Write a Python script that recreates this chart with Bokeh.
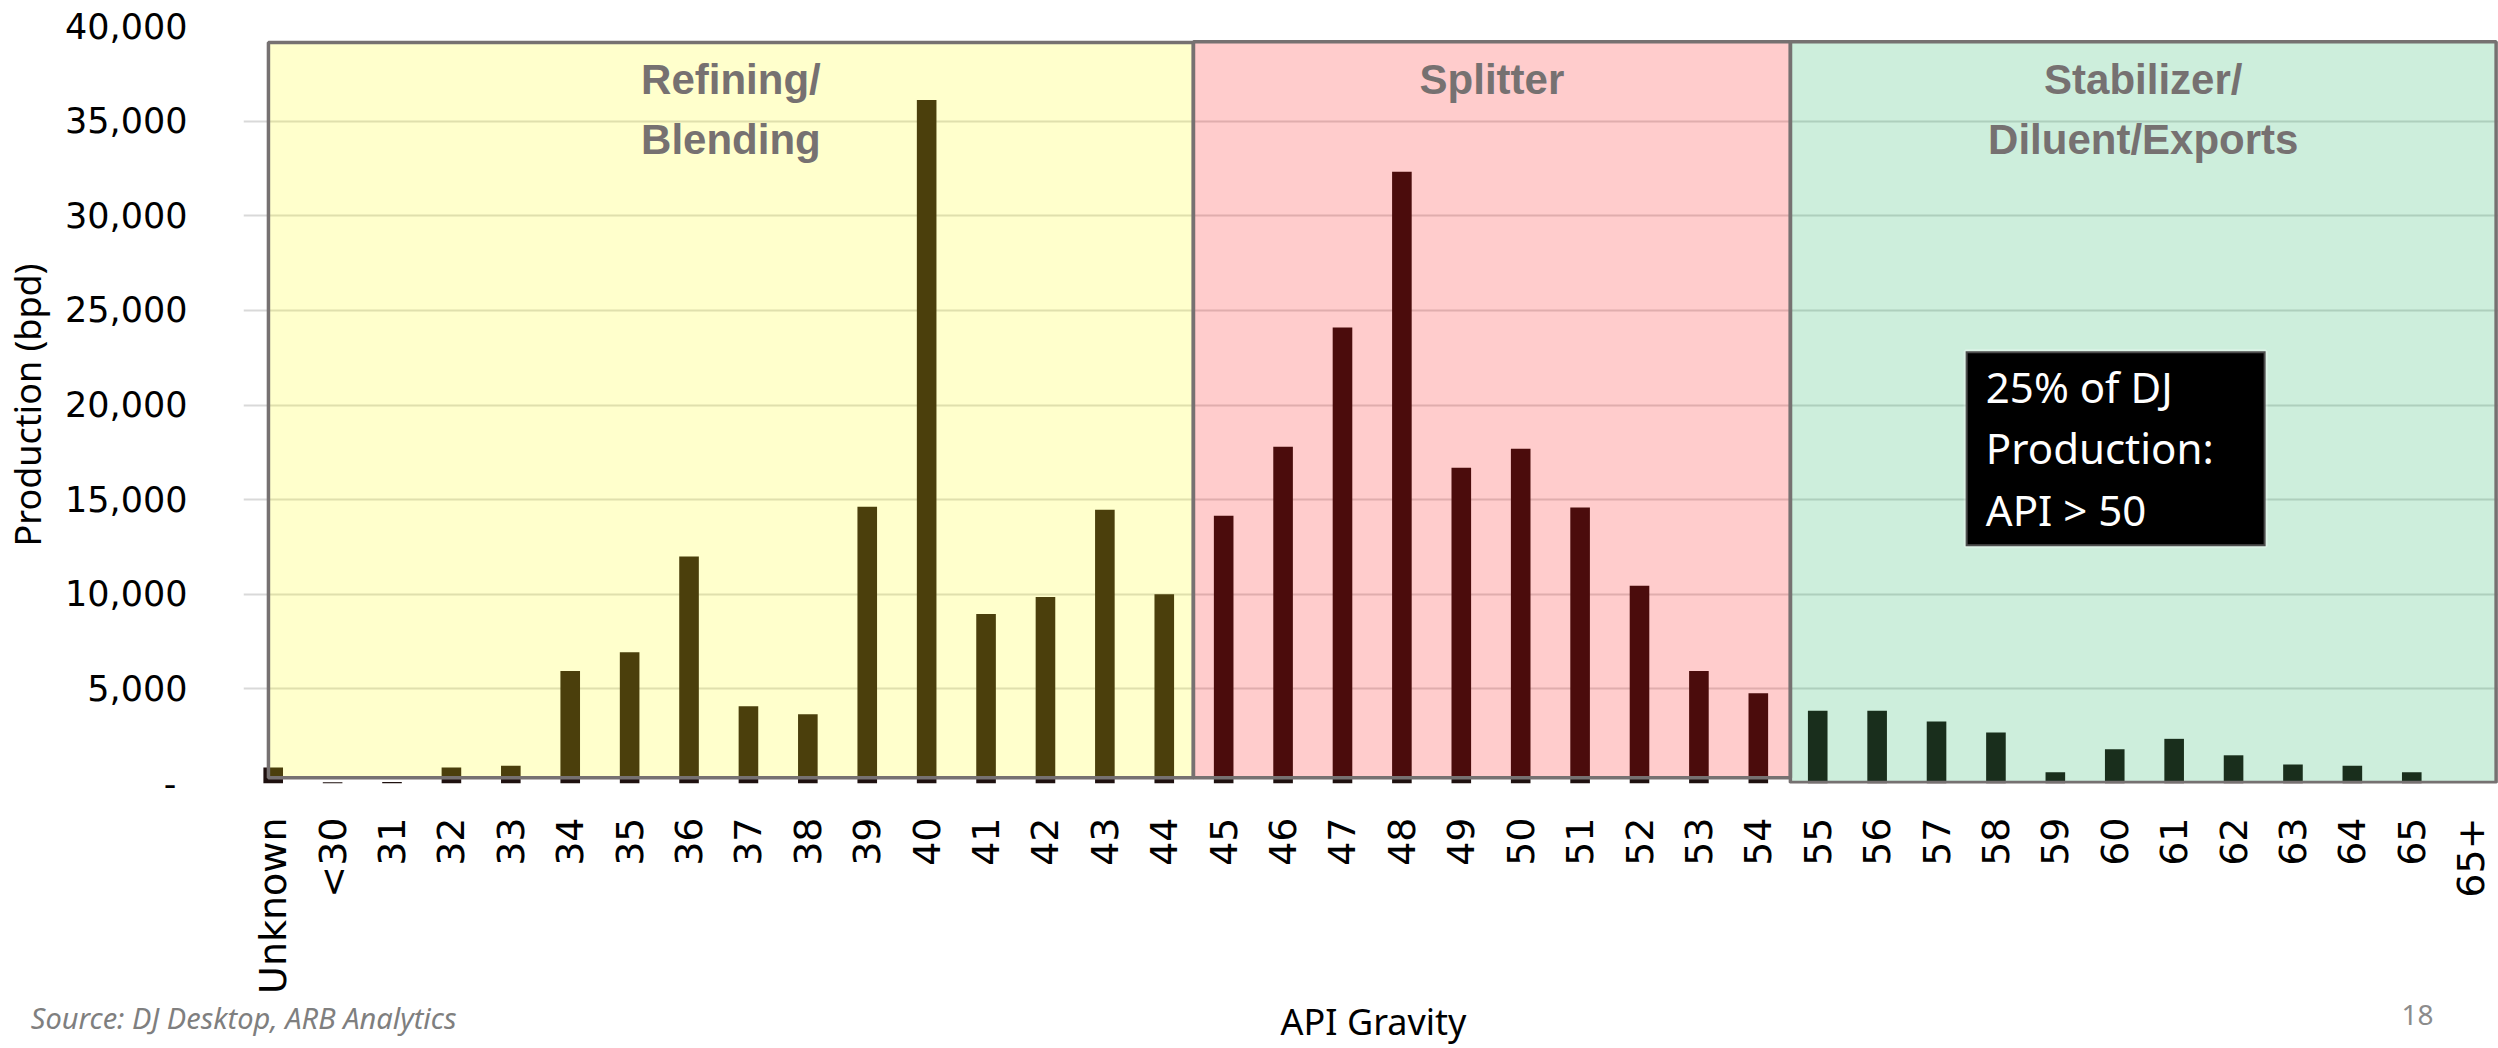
import math
from bokeh.plotting import figure
from bokeh.layouts import column
from bokeh.models import Range1d, FixedTicker, NumeralTickFormatter, BoxAnnotation
from bokeh.core.properties import value
from bokeh.embed import file_html
from bokeh.resources import INLINE

# ---------------- data ----------------
categories = ["Unknown", "<30", "31", "32", "33", "34", "35", "36", "37", "38", "39", "40",
              "41", "42", "43", "44", "45", "46", "47", "48", "49", "50", "51", "52", "53",
              "54", "55", "56", "57", "58", "59", "60", "61", "62", "63", "64", "65", "65+"]
production = [850, 60, 80, 850, 940, 5940, 6930, 12000, 4080, 3660, 14620, 36120,
              8950, 9850, 14460, 10000, 14150, 17800, 24100, 32330, 16690, 17690, 14590, 10450, 5950,
              4770, 3850, 3850, 3280, 2700, 600, 1810, 2360, 1490, 1010, 940, 600, 0]
y_ticks = [0, 5000, 10000, 15000, 20000, 25000, 30000, 35000, 40000]

region_lines = [["Refining/", "Blending"], ["Splitter"], ["Stabilizer/", "Diluent/Exports"]]
region_first = ["Unknown", "45", "55"]
region_last = ["44", "54", "65+"]
callout_lines = ["25% of DJ", "Production:", "API > 50"]
x_title = "API Gravity"
y_title = "Production (bpd)"
source_note = "Source: DJ Desktop, ARB Analytics"
page_number = "18"

# ---------------- styling / layout ----------------
W = 2498
FRAME_LEFT = 243
bar_color = "#1E100F"
region_tints = ["#FFFF00", "#FF0000", "#05AA50"]
region_pad_left = [0.08, 0.51, 0.46]
region_pad_right = [0.49, 0.54, 0.42]
region_top = [39150, 39200, 39200]
region_bottom = [300, 300, 50]
border_gray = "#767171"
line_baselines = [37200, 34050]

idx = list(range(len(categories)))

p = figure(width=W, height=996, output_backend="svg", toolbar_location=None, title=None,
           x_range=Range1d(-0.5, 37.46), y_range=Range1d(0, 40000),
           min_border_left=FRAME_LEFT, min_border_right=0, min_border_top=26, min_border_bottom=198)
p.outline_line_color = None
p.background_fill_color = "white"
p.border_fill_color = "white"

p.xgrid.grid_line_color = None
p.ygrid.ticker = FixedTicker(ticks=y_ticks)
p.ygrid.grid_line_color = "#d9d9d9"
p.ygrid.grid_line_width = 2

# y axis
yax = p.yaxis[0]
yax.ticker = FixedTicker(ticks=y_ticks)
yax.formatter = NumeralTickFormatter(format="0,0")
yax.major_label_overrides = {0: "-\u00a0"}
yax.major_label_text_font = "DejaVu Sans"
yax.major_label_text_font_size = "35px"
yax.major_label_text_color = "black"
yax.axis_line_color = None
yax.major_tick_line_color = None
yax.minor_tick_line_color = None
yax.major_label_standoff = 50
yax.axis_label = y_title
yax.axis_label_text_font = "Noto Sans"
yax.axis_label_text_font_size = "36px"
yax.axis_label_text_font_style = "normal"
yax.axis_label_text_color = "black"
yax.axis_label_standoff = 10

# x axis
xax = p.xaxis[0]
xax.ticker = FixedTicker(ticks=idx)
xax.major_label_overrides = {i: c for i, c in zip(idx, categories)}
xax.major_label_orientation = math.pi / 2
xax.major_label_text_font = "DejaVu Sans"
xax.major_label_text_font_size = "38px"
xax.major_label_text_color = "black"
xax.axis_line_color = None
xax.major_tick_line_color = None
xax.minor_tick_line_color = None
xax.major_label_standoff = 28

# bars
p.vbar(x=idx, top=production, bottom=0, width=0.33, fill_color=bar_color, line_color=None)

# region overlays
label_x, label_y, label_t = [], [], []
for k in range(3):
    i0 = categories.index(region_first[k])
    i1 = categories.index(region_last[k])
    left = i0 - region_pad_left[k]
    right = i1 + region_pad_right[k]
    p.add_layout(BoxAnnotation(left=left, right=right, top=region_top[k], bottom=region_bottom[k],
                               fill_color=region_tints[k], fill_alpha=0.2,
                               line_color=border_gray, line_width=3.5, line_alpha=1))
    cx = (left + right) / 2
    for j, line in enumerate(region_lines[k]):
        label_x.append(cx)
        label_y.append(line_baselines[j])
        label_t.append(line)

p.text(x=label_x, y=label_y, text=label_t, text_font=value("Liberation Sans"),
       text_font_style="bold", text_font_size="42px", text_color=border_gray,
       text_align="center", text_baseline="alphabetic", level="overlay")

# callout box
p.add_layout(BoxAnnotation(left=28.49, right=33.54, top=22840, bottom=12540,
                           fill_color="black", fill_alpha=1, line_color="white", line_width=4))
p.text(x=[28.83] * 3, y=[21000, 17740, 14480], text=callout_lines, text_font=value("Noto Sans"),
       text_font_size="42px", text_color="white", text_align="left",
       text_baseline="alphabetic", level="overlay")

# bottom strip: axis title, page number and the source note
strip_h = 52
p2 = figure(width=W, height=strip_h, output_backend="svg", toolbar_location=None, title=None,
            x_range=Range1d(FRAME_LEFT, W), y_range=Range1d(0, strip_h),
            x_axis_location=None, y_axis_location="left",
            min_border_left=FRAME_LEFT, min_border_right=0, min_border_top=0, min_border_bottom=0)
p2.outline_line_color = None
p2.grid.visible = False
p2.background_fill_color = "white"
p2.border_fill_color = "white"
sax = p2.yaxis[0]
sax.ticker = FixedTicker(ticks=[8])
sax.major_label_overrides = {8: source_note}
sax.major_label_text_font = "Noto Sans"
sax.major_label_text_font_style = "italic"
sax.major_label_text_font_size = "29px"
sax.major_label_text_color = "#7f7f7f"
sax.major_label_standoff = -219
sax.axis_line_color = None
sax.major_tick_line_color = None
sax.minor_tick_line_color = None

p2.text(x=[1373], y=[27], text=[x_title], text_font=value("Noto Sans"), text_font_size="36px",
        text_color="black", text_align="center", text_baseline="alphabetic")
p2.text(x=[2433], y=[34], text=[page_number], text_font=value("Noto Sans"), text_font_size="28px",
        text_color="#8c8c8c", text_align="right", text_baseline="alphabetic")

layout = column(p, p2, spacing=0)
open("out.html", "w").write(file_html(layout, INLINE))
